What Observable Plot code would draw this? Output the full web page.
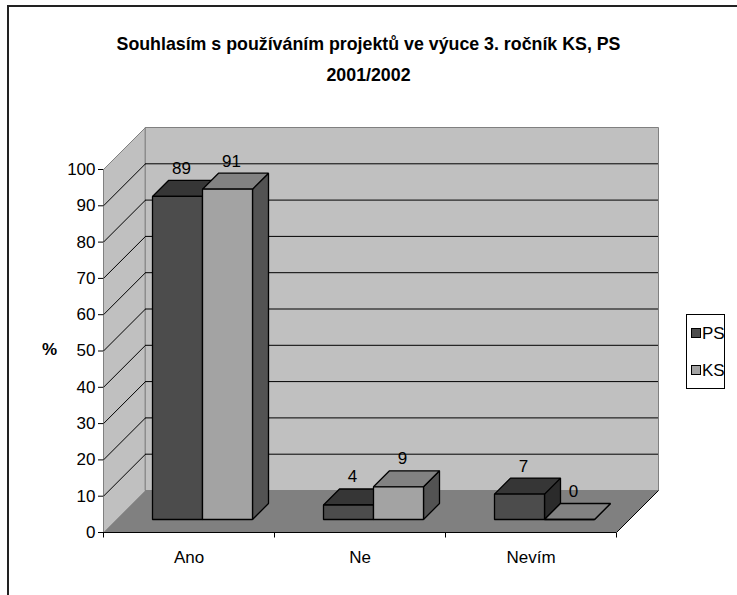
<!DOCTYPE html>
<html>
<head>
<meta charset="utf-8">
<script src="https://cdn.jsdelivr.net/npm/d3@7"></script>
<script src="https://cdn.jsdelivr.net/npm/@observablehq/plot@0.6"></script>
<style>
  html, body { margin: 0; padding: 0; background: #fff; overflow: hidden; width: 737px; height: 595px; }
  body { font-family: "Liberation Sans", Arial, sans-serif; position: relative; }
  #frame { position: absolute; left: 7px; top: 5px; width: 900px; height: 800px; border-left: 2px solid #222; border-top: 2px solid #222; }
  #title { position: absolute; left: 0; top: 29px; width: 737px; text-align: center; font-weight: bold; font-size: 17.8px; line-height: 31px; color: #000; }
  #chart { position: absolute; left: 0; top: 110px; }
  #ylabel { position: absolute; left: 42px; top: 340px; font-weight: bold; font-size: 17px; }
  #legend { position: absolute; left: 686px; top: 314px; width: 37px; height: 73px; border: 1px solid #000; background: #fff; font-size: 17px; }
  .item { position: absolute; left: 4px; height: 18px; line-height: 18px; white-space: nowrap; }
  .sw { display: inline-block; width: 8px; height: 8px; border: 1px solid #000; margin-right: 1px; vertical-align: 1px; }
</style>
</head>
<body>
<div id="frame"></div>
<div id="title">Souhlasím s používáním projektů ve výuce 3. ročník KS, PS<br>2001/2002</div>
<div id="ylabel">%</div>
<div id="chart"></div>
<div id="legend"></div>
<script>
// ---- data ----
const categories = ["Ano", "Ne", "Nevím"];
const series = ["PS", "KS"];
const psValues = [89, 4, 7];
const ksValues = [91, 9, 0];
const yTicks = [0, 10, 20, 30, 40, 50, 60, 70, 80, 90, 100];

// ---- styling / geometry constants ----
const palette = {
  PS: { front: "#4c4c4c", top: "#363636", side: "#2b2b2b" },
  KS: { front: "#a3a3a3", top: "#828282", side: "#535353" }
};
const W = 737, H = 470;
const mL = 103, mR = 121, mT = 59, mB = 48;
const pxX = (W - mL - mR) / categories.length;
const pxY = (H - mT - mB) / 100;
const ux = p => p / pxX, uy = p => p / pxY;
const WALL = 42, SHIFT = 13, DEPTH = 16, INSET = 36, BARW = 50;
const nC = categories.length;
const values = { PS: psValues, KS: ksValues };

// walls / floor polygons (data space)
const wx = ux(WALL), wy = uy(WALL);
const walls = [];
function pushPoly(arr, id, fill, pts) { pts.forEach(([x, y]) => arr.push({ id, fill, x, y })); }
pushPoly(walls, "side", "#c0c0c0", [[0, 0], [0, 100], [wx, 100 + wy], [wx, wy]]);
pushPoly(walls, "back", "#c0c0c0", [[wx, wy], [nC + wx, wy], [nC + wx, 100 + wy], [wx, 100 + wy]]);
const floor = [];
pushPoly(floor, "floor", "#808080", [[0, 0], [nC, 0], [nC + wx, wy], [wx, wy]]);

// bar faces
const faces = [];
const labels = [];
categories.forEach((c, i) => {
  series.forEach((s, k) => {
    const v = values[s][i];
    const x1 = i + ux(INSET + k * BARW), x2 = x1 + ux(BARW);
    const bx = ux(DEPTH), by = uy(DEPTH);
    const id = c + "-" + s;
    pushPoly(faces, id + "-side", palette[s].side, [[x2, 0], [x2, v], [x2 + bx, v + by], [x2 + bx, by]]);
    pushPoly(faces, id + "-top", palette[s].top, [[x1, v], [x2, v], [x2 + bx, v + by], [x1 + bx, v + by]]);
    pushPoly(faces, id + "-front", palette[s].front, [[x1, 0], [x2, 0], [x2, v], [x1, v]]);
    labels.push({ x: (x1 + x2) / 2, y: v, text: String(v) });
  });
});

const inner = yTicks.filter(t => t > 0 && t < 100);

const chart = Plot.plot({
  width: W, height: H,
  marginLeft: mL, marginRight: mR, marginTop: mT, marginBottom: mB,
  style: { fontFamily: "'Liberation Sans', Arial, sans-serif", fontSize: "17px", background: "transparent", color: "#000", overflow: "visible" },
  x: { domain: [0, nC], axis: null },
  y: { domain: [0, 100], ticks: yTicks, tickSize: 5, tickPadding: 3, tickFormat: d => String(d), label: null, line: true },
  color: { type: "identity" },
  marks: [
    Plot.line(walls, { x: "x", y: "y", z: "id", fill: "fill", stroke: "#808080", strokeWidth: 1, curve: "linear-closed" }),
    Plot.ruleY(inner, { y: d => d + wy, x1: wx, x2: nC + wx, stroke: "#000", strokeWidth: 1 }),
    Plot.link(inner, { x1: 0, y1: d => d, x2: wx, y2: d => d + wy, stroke: "#000", strokeWidth: 1 }),
    Plot.line(floor, { x: "x", y: "y", z: "id", fill: "fill", stroke: "none", curve: "linear-closed" }),
    Plot.link([0], { x1: nC, y1: 0, x2: nC + wx, y2: wy, stroke: "#000", strokeWidth: 1 }),
    Plot.ruleY([0], { x1: 0, x2: nC, stroke: "#000", strokeWidth: 1 }),
    Plot.link(d3.range(nC + 1), { x1: d => d, x2: d => d, y1: 0, y2: -uy(5), stroke: "#000", strokeWidth: 1 }),
    Plot.text(categories, { x: (d, i) => i + 0.5, y: 0, dy: 25, text: d => d, fontSize: 17, fill: "#000" }),
    Plot.line(faces, { x: "x", y: "y", z: "id", fill: "fill", stroke: "#000", strokeWidth: 1.3, strokeLinejoin: "miter", curve: "linear-closed", dx: SHIFT, dy: -SHIFT }),
    Plot.text(labels, { x: "x", y: "y", text: "text", dx: SHIFT + 4, dy: -SHIFT - 28, fontSize: 17, fill: "#000" })
  ]
});
document.getElementById("chart").appendChild(chart);

// legend
const lg = document.getElementById("legend");
series.forEach((s, k) => {
  const it = document.createElement("div");
  it.className = "item";
  it.style.top = (10 + k * 37) + "px";
  it.innerHTML = `<span class="sw" style="background:${palette[s].front}"></span>${s}`;
  lg.appendChild(it);
});
</script>
</body>
</html>
